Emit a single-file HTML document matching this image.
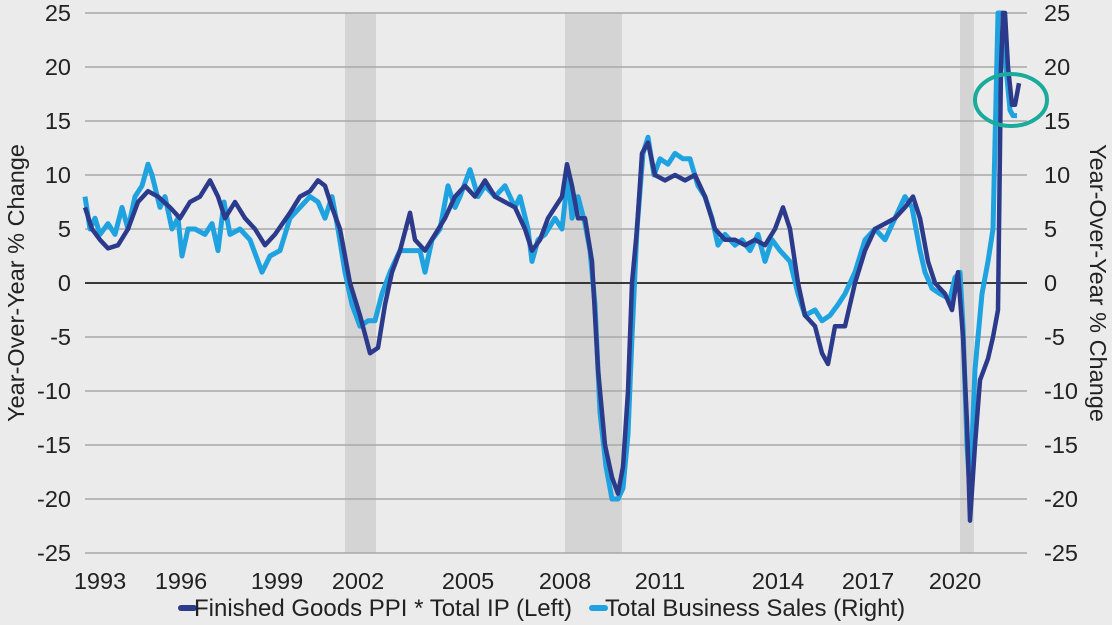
<!DOCTYPE html>
<html><head><meta charset="utf-8"><style>
html,body{margin:0;padding:0;background:#ebebeb;}
svg{display:block;font-family:"Liberation Sans",Arial,sans-serif;}
</style></head><body>
<svg id="s" width="1112" height="625" viewBox="0 0 1112 625">
<rect width="1112" height="625" fill="#ebebeb"/>
<g fill="#d4d4d4">
<rect x="345" y="13" width="31" height="540"/>
<rect x="565" y="13" width="57" height="540"/>
<rect x="960" y="13" width="14" height="540"/>
</g>
<g id="grid" stroke="#a8a8a8" stroke-width="1.5"></g>
<line x1="85" y1="283" x2="1027" y2="283" stroke="#000" stroke-width="1.5"/>
<g id="lab" font-size="23.5" fill="#222"></g>
<text transform="translate(24,283) rotate(-90)" text-anchor="middle" font-size="23.5" fill="#222">Year-Over-Year %  Change</text>
<text transform="translate(1090,283) rotate(90)" text-anchor="middle" font-size="23.5" fill="#222">Year-Over-Year % Change</text>
<polyline id="lt" fill="none" stroke="#1fa2e0" stroke-width="5" stroke-linejoin="round"/>
<polyline id="dk" fill="none" stroke="#2b3a8a" stroke-width="4.5" stroke-linejoin="round"/>
<ellipse cx="1011" cy="100" rx="36" ry="26" fill="none" stroke="#1aab9b" stroke-width="4"/>
<line x1="181" y1="608" x2="194" y2="608" stroke="#2b3a8a" stroke-width="6" stroke-linecap="round"/>
<text x="194" y="616" font-size="24" fill="#222">Finished Goods PPI * Total IP (Left)</text>
<line x1="592" y1="608" x2="605" y2="608" stroke="#1fa2e0" stroke-width="6" stroke-linecap="round"/>
<text x="605" y="616" font-size="24" fill="#222">Total Business Sales (Right)</text>
</svg>
<script>
var Y=function(v){v=Math.max(-25,Math.min(25,v));return 283-10.8*v;};
var g=document.getElementById('grid'),lab=document.getElementById('lab'),ns='http://www.w3.org/2000/svg';
for(var v=-25;v<=25;v+=5){var y=Y(v);
 if(v!==0){var l=document.createElementNS(ns,'line');l.setAttribute('x1',85);l.setAttribute('x2',1027);l.setAttribute('y1',y);l.setAttribute('y2',y);g.appendChild(l);}
 var t=document.createElementNS(ns,'text');t.setAttribute('x',71);t.setAttribute('y',y+8);t.setAttribute('text-anchor','end');t.textContent=v;lab.appendChild(t);
 t=document.createElementNS(ns,'text');t.setAttribute('x',1044);t.setAttribute('y',y+8);t.textContent=v;lab.appendChild(t);}
var yrs=[[1993,100],[1996,181],[1999,277],[2002,358],[2005,468],[2008,565],[2011,660],[2014,778],[2017,868],[2020,955]];
yrs.forEach(function(a){var t=document.createElementNS(ns,'text');t.setAttribute('x',a[1]);t.setAttribute('y',589);t.setAttribute('text-anchor','middle');t.textContent=a[0];lab.appendChild(t);});
function pts(a){var s=[];for(var i=0;i<a.length;i+=2)s.push(a[i]+','+Y(a[i+1]).toFixed(1));return s.join(' ');}
var dk=[85,7,92,5,100,4,108,3.2,118,3.5,128,5,138,7.5,148,8.5,158,8,170,7,180,6,190,7.5,200,8,210,9.5,218,8,225,6,235,7.5,245,6,255,5,265,3.5,275,4.5,290,6.5,300,8,310,8.5,318,9.5,325,9,332,7,340,5,350,0,360,-3,370,-6.5,378,-6,385,-2,392,1,400,3,410,6.5,415,4,425,3,435,4.5,445,6,455,8,465,9,475,8,485,9.5,495,8,505,7.5,515,7,525,5,532,3,540,4,548,6,555,7,562,8,567,11,572,9,578,6,585,6,592,2,598,-8,605,-15,612,-18,618,-19.5,623,-17,628,-10,632,0,637,5,642,12,648,13,655,10,665,9.5,675,10,685,9.5,695,10,705,8,715,5,725,4,735,4,745,3.5,755,4,765,3.5,775,5,783,7,790,5,798,0,805,-3,815,-4,822,-6.5,828,-7.5,835,-4,845,-4,855,0,865,3,875,5,885,5.5,895,6,905,7,913,8,920,6,928,2,935,0,945,-1,952,-2.5,958,1,963,-5,967,-13,970,-22,975,-15,980,-9,988,-7,993,-5,998,-2.5,1001,20,1003,25,1005,25,1008,20,1012,16.5,1015,16.5,1019,18.5];
var lt=[85,8,90,5,95,6,100,4.5,108,5.5,115,4.5,122,7,128,5,135,8,142,9,148,11,152,10,160,7,165,8,172,5,178,6,182,2.5,188,5,195,5,205,4.5,212,5.5,218,3,224,7.5,230,4.5,240,5,250,4,258,2,262,1,270,2.5,280,3,290,6,300,7,310,8,318,7.5,325,6,332,8,338,5,345,1,352,-2,360,-4,368,-3.5,375,-3.5,382,-1,390,1,400,3,410,3,420,3,425,1,432,4,440,5,448,9,455,7,460,8,470,10.5,478,8,485,9,495,8,505,9,515,7,520,8,528,5,532,2,538,4,545,4.5,555,6,562,5,568,10,572,6,578,8,585,5.5,590,3,595,-2,600,-12,606,-17,612,-20,618,-20,623,-19,628,-14,632,-5,637,5,643,12,648,13.5,654,10,660,11.5,668,11,675,12,683,11.5,690,11.5,698,9,705,8,712,6,718,3.5,725,4.5,735,3.5,742,4,750,3,758,4.5,765,2,772,4,780,3,790,2,798,-1,805,-3,815,-2.5,822,-3.5,830,-3,838,-2,845,-1,855,1,865,4,875,5,885,4,895,6,905,8,912,7,920,3,925,1,932,-0.5,940,-1,950,-1.5,955,0.5,960,1,963,-4,967,-15,970,-19.5,975,-8,982,-1,988,2,993,5,998,25,1003,25,1006,20,1010,16,1013,15.5,1017,15.5];
document.getElementById('dk').setAttribute('points',pts(dk));
document.getElementById('lt').setAttribute('points',pts(lt));
</script>
</body></html>
